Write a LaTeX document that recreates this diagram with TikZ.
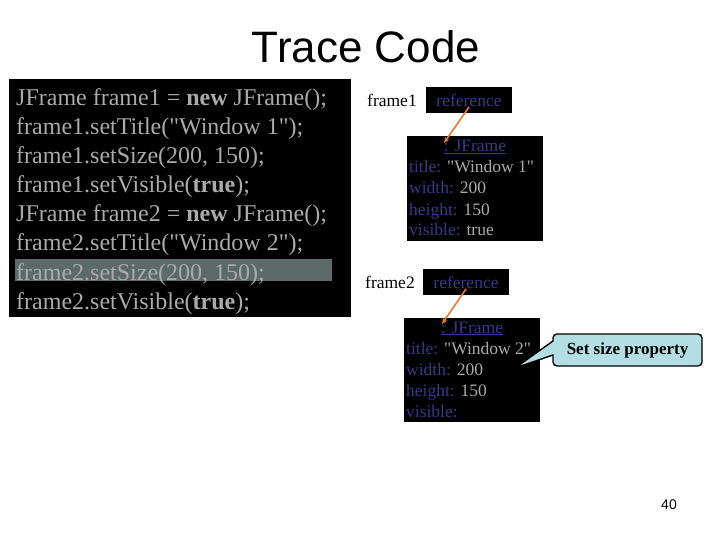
\documentclass[tikz,border=0pt]{standalone}
\usepackage{fontspec}
\setmainfont{Liberation Serif}
\newfontfamily\headfont{Liberation Sans}
\newfontfamily\rawserif{Liberation Serif}
\usetikzlibrary{shapes.callouts,arrows.meta,positioning}
\definecolor{codegrey}{RGB}{170,170,170}
\definecolor{hlgrey}{RGB}{92,106,106}
\definecolor{fieldblue}{RGB}{56,56,136}
\definecolor{refarrow}{RGB}{232,122,52}
\definecolor{tipfill}{RGB}{178,222,228}

\tikzset{
  codeline/.style={anchor=base west, inner sep=0pt, text=codegrey, font=\fontsize{24}{28}\selectfont},
  blackbox/.style={fill=black, inner sep=0pt},
  refbox/.style={blackbox, minimum width=86, minimum height=26, text=fieldblue, font=\fontsize{17.5}{20}\selectfont},
  objbox/.style={blackbox, minimum width=136, minimum height=105},
  fieldline/.style={anchor=base west, inner sep=0pt, text=codegrey, font=\fontsize{17.5}{20}\selectfont},
  varname/.style={anchor=base west, inner sep=0pt, font=\fontsize{17.5}{20}\selectfont},
  refptr/.style={draw=refarrow, line width=1.6pt, -{Stealth[length=6pt,width=5pt]}},
}
\newcommand{\fld}[1]{\textcolor{fieldblue}{#1}}
\newcommand{\qt}{{\rawserif\symbol{34}}}

\begin{document}
\begin{tikzpicture}[x=1pt,y=-1pt]
\useasboundingbox (0,0) rectangle (720,540);

\node[font=\headfont\fontsize{44}{50}\selectfont, anchor=base, inner sep=0pt] (head) at (366,63) {Trace Code};

% code listing
\node[blackbox, minimum width=342, minimum height=238] (code) at (180,198) {};
\fill[hlgrey] (15,259) rectangle (332,281);
\foreach \txt [count=\i from 0] in {%
  {JFrame frame1 = \textbf{new} JFrame();},
  {frame1.setTitle(\qt Window 1\qt);},
  {frame1.setSize(200, 150);},
  {frame1.setVisible(\textbf{true});},
  {JFrame frame2 = \textbf{new} JFrame();},
  {frame2.setTitle(\qt Window 2\qt);},
  {frame2.setSize(200, 150);},
  {frame2.setVisible(\textbf{true});}}
  \node[codeline] (line\i) at (16,106+29*\i) {\txt};

% first window
\node[varname] (var1) at (367,107) {frame1};
\node[refbox] (ref1) at (469,100) {reference};
\node[objbox] (obj1) at (474.5,188.5) {};
\node[fieldline, anchor=base, text=fieldblue] (cls1) at (475,152) {\underline{: JFrame}};
\node[fieldline] (ttl1) at (409,173) {\fld{title:} \qt Window 1\qt};
\node[fieldline] (wid1) at (409,194) {\fld{width:} 200};
\node[fieldline] (hgt1) at (409,215) {\fld{height:} 150};
\node[fieldline] (vis1) at (409,236) {\fld{visible:} true};
\coordinate (tip1) at (444,143);
\draw[refptr] ([yshift=-7pt]ref1.center) -- (tip1);

% second window
\node[varname] (var2) at (365,288) {frame2};
\node[refbox] (ref2) at (466,282) {reference};
\node[objbox, minimum height=104] (obj2) at (472,370) {};
\node[fieldline, anchor=base, text=fieldblue] (cls2) at (472,333) {\underline{: JFrame}};
\node[fieldline] (ttl2) at (406,354) {\fld{title:} \qt Window 2\qt};
\node[fieldline] (wid2) at (406,375) {\fld{width:} 200};
\node[fieldline] (hgt2) at (406,396) {\fld{height:} 150};
\node[fieldline] (vis2) at (406,417) {\fld{visible:}};
\coordinate (tip2) at (442,324);
\draw[refptr] ([yshift=-7pt]ref2.center) -- (tip2);

% note
\coordinate (hint) at (515,368);
\node[rectangle callout, draw, line width=1.4pt, rounded corners=4pt, fill=tipfill,
  minimum width=149, minimum height=32, callout absolute pointer={(hint)},
  callout pointer width=14pt, font=\bfseries\fontsize{17}{20}\selectfont] (note) at (627.5,350) {Set size property};

\node[font=\headfont\fontsize{14}{16}\selectfont, anchor=base, inner sep=0pt] (pgnum) at (669,509) {40};
\end{tikzpicture}
\end{document}
